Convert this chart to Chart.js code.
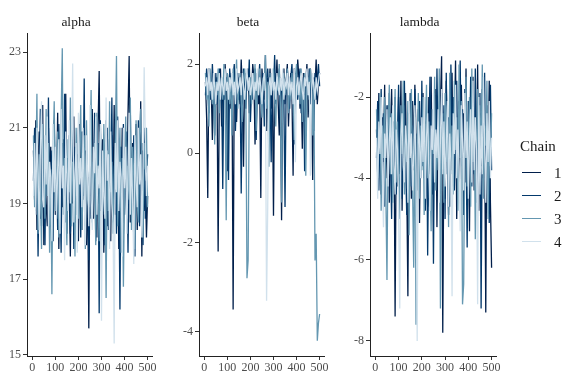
<!DOCTYPE html>
<html lang="en">
<head>
<meta charset="UTF-8">
<title>Trace plots</title>
<script src="https://cdn.jsdelivr.net/npm/chart.js"></script>
<style>
    body { margin: 0; background: #fff; }
    #wrap { position: relative; width: 576px; height: 384px; overflow: hidden; font-family: 'Liberation Serif', serif; }
    #wrap canvas { position: absolute; top: 0; }
    #legend { position: absolute; left: 520px; top: 136px; color: #1a1a1a; }
    #legend .ttl { font-size: 15px; line-height: 20px; margin-bottom: 6px; }
    #legend .row { position: relative; height: 23px; }
    #legend .key { position: absolute; left: 2px; top: 10px; width: 19px; height: 1px; }
    #legend .lab { position: absolute; left: 34px; top: 0; font-size: 15px; line-height: 22px; }
</style>
</head>
<body>
<div id="wrap">
    <canvas id="alphaChart" width="179" height="384" style="left:0px"></canvas>
    <canvas id="betaChart" width="179" height="384" style="left:172px"></canvas>
    <canvas id="lambdaChart" width="180" height="384" style="left:343px"></canvas>
    <div id="legend"></div>
</div>

<script>
// thinned draws: every 5th iteration
const iterations = [
    5, 10, 15, 20, 25, 30, 35, 40, 45, 50, 55, 60, 65, 70, 75, 80, 85, 90, 95, 100,
    105, 110, 115, 120, 125, 130, 135, 140, 145, 150, 155, 160, 165, 170, 175, 180, 185, 190, 195, 200,
    205, 210, 215, 220, 225, 230, 235, 240, 245, 250, 255, 260, 265, 270, 275, 280, 285, 290, 295, 300,
    305, 310, 315, 320, 325, 330, 335, 340, 345, 350, 355, 360, 365, 370, 375, 380, 385, 390, 395, 400,
    405, 410, 415, 420, 425, 430, 435, 440, 445, 450, 455, 460, 465, 470, 475, 480, 485, 490, 495, 500
];
const chainLabels = ['1', '2', '3', '4'];
const chainColors = ['#011f4b', '#03396c', '#6497b1', '#d1e1ec'];
const xTicks = [0, 100, 200, 300, 400, 500];

// alpha
const alphaChain1 = [
    20.4, 19.1, 21.2, 18.3, 19.8, 20.9, 18.6, 19.5, 21.6, 17.9,
    20.2, 19.0, 18.4, 21.0, 19.7, 20.5, 18.1, 19.9, 20.8, 18.7,
    19.3, 21.4, 17.8, 20.1, 19.6, 18.9, 20.7, 19.2, 21.9, 18.2,
    20.0, 19.4, 17.6, 20.6, 19.0, 21.3, 18.5, 19.8, 20.3, 18.0,
    21.1, 19.5, 18.3, 20.9, 19.1, 20.4, 17.9, 19.7, 15.7, 20.6,
    19.2, 21.5, 18.6, 20.0, 19.4, 18.1, 21.0, 22.5, 18.8, 19.9,
    20.7, 17.7, 19.3, 21.2, 18.4, 20.1, 19.6, 18.0, 20.8, 19.0,
    21.6, 18.7, 19.5, 20.3, 17.8, 20.5, 19.1, 21.0, 18.2, 19.8,
    20.2, 18.9, 21.4, 22.9, 18.5, 19.4, 20.6, 17.9, 19.9, 21.1,
    18.3, 20.0, 19.3, 21.7, 17.6, 20.4, 18.8, 19.6, 18.1, 19.2
];
const alphaChain2 = [
    19.6, 21.0, 18.8, 20.3, 17.6, 19.9, 21.5, 18.4, 20.1, 19.3,
    17.9, 20.7, 19.2, 21.8, 18.6, 19.7, 20.4, 18.0, 21.2, 19.5,
    20.0, 18.3, 21.1, 19.4, 17.7, 20.6, 19.0, 21.9, 18.5, 20.2,
    19.1, 20.8, 18.2, 19.6, 21.3, 17.8, 20.5, 19.3, 18.7, 21.0,
    19.8, 18.1, 20.9, 19.2, 22.3, 18.4, 20.3, 19.7, 17.5, 20.8,
    18.6, 20.1, 19.5, 21.4, 18.0, 19.9, 20.6, 16.1, 21.2, 19.3,
    18.8, 20.4, 17.9, 19.7, 21.0, 18.3, 20.7, 19.1, 21.8, 18.5,
    20.0, 19.4, 18.2, 21.3, 19.8, 16.2, 20.5, 19.0, 21.1, 18.7,
    19.6, 20.9, 17.7, 20.2, 21.5, 18.9, 19.3, 20.8, 17.6, 20.1,
    19.5, 21.2, 18.4, 19.9, 20.6, 17.9, 21.0, 18.6, 19.7, 20.3
];
const alphaChain3 = [
    20.8, 18.9, 19.7, 21.9, 18.2, 20.3, 19.4, 17.8, 21.1, 20.0,
    18.6, 21.5, 19.2, 20.6, 17.7, 19.9, 16.6, 20.4, 21.7, 18.8,
    19.5, 20.9, 18.1, 19.8, 21.3, 23.1, 18.7, 20.2, 19.0, 17.9,
    20.7, 19.3, 21.8, 18.4, 20.1, 19.6, 17.6, 21.0, 19.9, 18.6,
    20.5, 21.6, 18.3, 19.4, 20.8, 17.8, 21.2, 19.1, 18.9, 20.3,
    22.0, 18.5, 19.7, 20.6, 17.9, 21.4, 19.2, 18.0, 20.9, 19.5,
    18.7, 21.1, 19.9, 16.5, 20.4, 18.8, 21.7, 19.3, 20.1, 18.2,
    19.6, 20.7, 22.9, 18.4, 19.8, 21.0, 17.7, 20.2, 16.8, 19.4,
    21.3, 18.6, 20.0, 19.1, 21.8, 18.3, 20.5, 19.7, 17.8, 21.2,
    19.0, 18.5, 20.8, 21.5, 19.3, 18.1, 20.6, 19.9, 21.0, 18.9
];
const alphaChain4 = [
    19.2, 20.6, 18.7, 21.0, 19.8, 18.3, 20.4, 21.7, 19.1, 18.9,
    20.8, 19.5, 21.3, 18.4, 20.1, 19.7, 18.0, 21.1, 19.3, 20.5,
    18.6, 19.9, 20.7, 18.2, 21.5, 19.4, 20.0, 17.5, 20.9, 19.6,
    18.8, 21.2, 19.0, 20.3, 22.7, 18.5, 19.8, 20.6, 17.7, 21.4,
    19.5, 20.2, 18.9, 21.0, 19.3, 17.9, 20.8, 19.7, 18.4, 21.6,
    19.1, 18.3, 20.5, 19.8, 21.3, 18.7, 20.0, 19.4, 21.1, 15.9,
    20.4, 19.2, 18.6, 21.8, 19.6, 20.3, 17.8, 20.9, 19.0, 18.5,
    15.3, 20.6, 19.3, 21.2, 18.8, 20.1, 19.7, 17.6, 21.0, 19.4,
    20.5, 18.2, 19.9, 21.4, 18.7, 20.2, 19.1, 17.4, 20.8, 19.6,
    18.9, 21.0, 19.5, 20.3, 18.1, 19.8, 22.6, 20.7, 19.2, 20.0
];
const alphaTicks = [15, 17, 19, 21, 23];

// beta
const betaChain1 = [
    1.6, 0.8, -1.0, 1.9, 1.2, 1.5, 0.3, 1.8, 1.4, 1.1,
    1.7, -2.2, 1.3, 1.9, 0.6, 1.5, 1.2, 2.0, 1.6, -0.4,
    1.4, 1.8, 1.0, 1.6, -3.5, 1.9, 1.3, 0.7, 1.7, 1.5,
    1.1, 2.1, 1.4, -0.3, 1.8, 1.2, 1.6, 1.9, 0.9, 1.5,
    1.3, 2.0, 1.7, 0.2, 1.4, 1.8, 1.1, 1.6, -1.0, 1.9,
    1.5, 1.2, 2.2, 0.5, 1.7, 1.3, 1.9, 1.0, 1.6, -1.4,
    1.8, 1.4, 2.1, 1.2, 0.4, 1.7, -1.5, 1.5, 1.9, 1.1,
    1.6, 2.0, 0.6, 1.4, 1.8, 1.3, -0.5, 1.9, 1.5, 1.2,
    2.1, 1.7, 1.0, 1.5, 0.1, 1.8, 1.3, 1.6, 2.0, 0.8,
    1.4, 1.9, 1.2, -0.6, 1.7, 1.5, 2.1, 1.1, 1.6, 1.8
];
const betaChain2 = [
    1.3, 1.9, 1.5, 0.9, 1.7, 1.2, 2.0, 1.4, 0.4, 1.8,
    1.1, 1.6, 1.9, 1.3, 1.5, -0.8, 1.8, 1.2, 1.7, 1.4,
    -0.6, 1.9, 1.5, 1.1, 1.7, 2.0, 0.5, 1.4, 1.8, 1.2,
    1.6, -0.9, 1.3, 1.9, 1.5, 1.0, 1.8, 1.4, 2.1, 0.7,
    1.5, 1.2, 1.7, 1.9, 0.3, 1.4, 1.6, 2.0, 1.1, 1.5,
    1.8, 0.6, 1.3, 1.7, 1.9, 1.2, 1.5, -0.2, 1.8, 1.4,
    2.2, 1.1, 1.6, 1.3, 1.9, 0.8, 1.5, 1.7, 1.2, -1.2,
    1.6, 1.9, 1.4, 1.0, 1.7, 2.0, 1.3, 0.2, 1.8, 1.5,
    1.2, 1.6, 1.9, 0.9, 1.4, 1.7, -0.4, 1.5, 1.8, 1.3,
    1.9, 1.1, 1.6, 1.4, 0.5, 1.8, 1.2, 1.7, 2.0, 1.5
];
const betaChain3 = [
    1.8, 1.2, 1.5, 0.6, 1.9, 1.4, 1.1, 1.7, 0.2, 1.6,
    1.3, 1.9, 0.9, 1.5, 1.7, 1.2, 2.0, 1.4, -1.5, 1.8,
    1.5, 1.1, 1.7, 0.4, 1.9, 1.3, 1.6, 2.1, 1.0, 1.5,
    1.8, 1.2, 0.7, 1.6, 1.9, 1.4, -2.8, -2.4, 1.3, 1.7,
    1.1, 1.8, 1.5, 2.0, 0.5, 1.6, 1.3, 1.9, 1.2, 0.8,
    1.7, 1.4, 2.2, 1.0, 1.6, -0.3, 1.8, 1.3, 1.5, 1.9,
    1.2, 0.6, 1.7, 1.4, 2.0, 1.1, -1.1, 1.6, 1.8, 1.3,
    1.5, 1.9, 0.9, 1.6, 1.2, 1.8, 1.4, 0.3, 1.7, 2.0,
    1.3, 1.6, 1.1, 1.9, 0.7, 1.5, 1.8, -0.5, 1.4, 1.7,
    1.2, 1.9, 1.5, 0.4, 1.6, -2.4, -1.8, -4.2, -3.8, -3.6
];
const betaChain4 = [
    1.5, 1.7, 1.3, 1.9, 1.4, 1.6, 1.2, 1.8, 1.5, 1.1,
    1.6, 1.4, 1.8, 1.2, 1.7, 1.5, 1.3, 1.9, 1.4, 1.6,
    1.2, 1.7, 1.5, 1.8, 1.3, 1.6, 1.1, 1.9, 1.4, 1.5,
    1.7, 1.3, 1.8, 1.5, 1.2, 1.6, 1.9, 1.4, 1.7, 1.3,
    1.5, 1.8, 1.2, 1.6, 1.4, 1.9, 1.3, 1.7, 1.5, 1.1,
    1.6, 1.8, 1.4, -3.3, -1.2, 1.5, 1.7, 1.3, 1.9, 1.4,
    1.6, 1.2, 1.8, 1.5, 1.3, 1.7, 1.4, 1.9, 1.2, 1.6,
    1.5, 1.8, 1.3, 1.7, 1.4, 1.6, 1.1, 1.9, -0.2, 1.5,
    1.7, 1.3, 1.6, 1.8, 1.4, 1.2, 1.7, 1.5, 1.9, 1.3,
    1.6, -0.5, 1.4, 1.8, 1.5, 1.2, 1.7, 1.4, 1.6, 1.8
];
const betaTicks = [-4, -2, 0, 2];

// lambda
const lambdaChain1 = [
    -2.8, -3.9, -1.9, -3.3, -4.4, -2.5, -3.6, -1.7, -4.0, -3.1,
    -2.2, -4.6, -3.0, -1.8, -3.7, -2.6, -7.4, -2.9, -4.2, -2.0,
    -3.4, -1.6, -4.8, -2.7, -3.5, -1.9, -4.1, -6.9, -2.4, -3.2,
    -4.5, -2.1, -3.8, -1.7, -3.0, -4.3, -2.3, -5.1, -2.8, -3.6,
    -1.9, -4.0, -2.6, -3.3, -4.7, -2.0, -3.9, -1.5, -4.4, -2.9,
    -3.5, -1.8, -5.2, -2.5, -3.7, -2.2, -1.0, -7.8, -3.1, -4.5,
    -1.6, -3.4, -4.9, -2.3, -3.8, -1.4, -4.2, -2.7, -1.1, -5.0,
    -3.0, -2.1, -4.6, -1.7, -3.5, -2.4, -4.1, -1.3, -3.9, -2.8,
    -5.3, -2.0, -3.6, -1.5, -4.3, -2.6, -3.2, -1.2, -4.8, -2.4,
    -3.7, -1.8, -4.0, -2.9, -7.3, -2.2, -3.5, -1.6, -4.6, -6.2
];
const lambdaChain2 = [
    -3.5, -2.1, -4.3, -2.9, -1.8, -3.8, -2.4, -4.7, -3.0, -2.2,
    -4.1, -1.9, -3.4, -5.0, -2.6, -3.7, -2.0, -4.4, -3.1, -1.7,
    -3.9, -2.8, -4.5, -2.3, -1.6, -3.6, -4.9, -2.5, -3.2, -1.9,
    -4.2, -2.7, -3.5, -1.8, -4.6, -2.9, -3.3, -2.1, -4.0, -1.6,
    -3.7, -2.4, -4.8, -2.0, -5.9, -3.1, -1.5, -3.8, -2.6, -6.1,
    -2.3, -4.1, -1.3, -3.4, -2.8, -4.4, -1.9, -3.6, -2.2, -5.0,
    -1.4, -3.9, -2.5, -4.7, -1.2, -3.0, -2.0, -4.3, -3.3, -1.6,
    -4.0, -2.6, -1.1, -3.7, -2.3, -4.9, -1.8, -3.2, -5.7, -2.1,
    -3.5, -1.5, -4.2, -2.7, -3.9, -1.3, -4.6, -2.4, -3.1, -1.9,
    -7.2, -2.8, -3.6, -1.4, -4.4, -2.5, -3.0, -5.1, -1.7, -3.8
];
const lambdaChain3 = [
    -2.3, -4.0, -3.1, -1.9, -4.8, -2.7, -3.5, -2.0, -4.3, -6.5,
    -2.9, -1.7, -3.9, -2.4, -4.6, -3.2, -1.8, -4.1, -2.6, -3.7,
    -5.0, -2.2, -3.4, -1.6, -4.4, -2.8, -3.6, -2.1, -5.4, -3.0,
    -1.8, -4.2, -6.2, -2.5, -7.6, -3.3, -1.9, -4.5, -2.7, -3.8,
    -2.0, -4.9, -3.1, -1.7, -4.0, -2.6, -3.7, -5.3, -2.3, -3.4,
    -1.5, -4.3, -2.9, -3.8, -1.3, -7.2, -3.0, -2.4, -4.6, -1.9,
    -3.6, -2.2, -5.2, -1.4, -3.9, -2.7, -4.4, -1.6, -3.3, -2.5,
    -4.8, -1.2, -3.5, -2.1, -7.1, -6.6, -2.8, -1.5, -4.2, -3.1,
    -2.0, -4.7, -1.3, -3.6, -2.5, -5.5, -3.9, -1.8, -4.1, -2.2,
    -3.4, -1.2, -4.5, -2.7, -3.2, -1.6, -5.0, -2.9, -3.7, -2.4
];
const lambdaChain4 = [
    -3.0, -4.5, -2.6, -3.4, -2.0, -3.8, -5.2, -2.9, -3.5, -2.3,
    -4.2, -3.1, -2.5, -3.9, -2.2, -3.6, -4.4, -2.8, -3.3, -4.9,
    -7.2, -3.0, -2.4, -3.7, -4.1, -2.7, -3.2, -4.6, -2.1, -3.5,
    -2.9, -4.3, -3.4, -2.2, -3.9, -8.0, -2.6, -3.1, -4.0, -2.5,
    -3.6, -2.0, -4.5, -3.0, -2.4, -3.8, -4.8, -2.7, -3.3, -1.9,
    -4.1, -2.8, -3.5, -2.3, -4.6, -3.0, -1.8, -3.9, -2.6, -4.2,
    -3.2, -2.1, -4.7, -2.9, -3.6, -6.9, -2.4, -3.4, -1.7, -4.0,
    -2.8, -3.7, -5.3, -2.2, -3.1, -4.3, -1.9, -3.5, -2.6, -4.5,
    -3.0, -2.3, -4.1, -1.6, -3.8, -2.5, -3.3, -7.1, -2.0, -4.4,
    -2.7, -3.9, -1.5, -3.2, -4.6, -2.4, -3.6, -2.1, -4.0, -3.0
];
const lambdaTicks = [-8, -6, -4, -2];

const serif = "'Liberation Serif', 'Times New Roman', serif";

function makePanel(id, title, chains, yMin, yMax, yTicks) {
    const datasets = chains.map((vals, i) => ({
        label: chainLabels[i],
        data: iterations.map((it, j) => ({ x: it, y: vals[j] })),
        borderColor: chainColors[i],
        borderWidth: 1.3,
        pointRadius: 0,
        fill: false,
        tension: 0,
        // chain 1 drawn first, chain 4 ends up on top
        order: chains.length - 1 - i
    }));
    new Chart(document.getElementById(id), {
        type: 'line',
        data: { datasets },
        options: {
            responsive: false,
            animation: false,
            devicePixelRatio: 1,
            layout: { padding: { left: 0, right: 27, top: 0, bottom: 0 } },
            plugins: {
                legend: { display: false },
                tooltip: { enabled: false },
                title: {
                    display: true,
                    text: title,
                    color: '#1a1a1a',
                    font: { family: serif, size: 13.5, weight: 'normal' },
                    padding: { top: 14, bottom: 3 }
                }
            },
            scales: {
                x: {
                    type: 'linear',
                    min: -23,
                    max: 519,
                    afterBuildTicks: axis => { axis.ticks = xTicks.map(v => ({ value: v })); },
                    afterFit: axis => { axis.height = 28; },
                    ticks: {
                        color: '#4d4d4d',
                        font: { family: serif, size: 12 },
                        maxRotation: 0,
                        padding: 1,
                        callback: v => String(v)
                    },
                    grid: { drawOnChartArea: false, tickLength: 4, tickColor: '#333' },
                    border: { color: '#222', width: 1 }
                },
                y: {
                    min: yMin,
                    max: yMax,
                    afterBuildTicks: axis => { axis.ticks = yTicks.map(v => ({ value: v })); },
                    afterFit: axis => { axis.width = 27; },
                    ticks: {
                        color: '#4d4d4d',
                        font: { family: serif, size: 12 },
                        padding: 2,
                        callback: v => String(v)
                    },
                    grid: { drawOnChartArea: false, tickLength: 4, tickColor: '#333' },
                    border: { color: '#222', width: 1 }
                }
            }
        }
    });
}

makePanel('alphaChart', 'alpha', [alphaChain1, alphaChain2, alphaChain3, alphaChain4], 14.97, 23.5, alphaTicks);
makePanel('betaChart', 'beta', [betaChain1, betaChain2, betaChain3, betaChain4], -4.54, 2.69, betaTicks);
makePanel('lambdaChart', 'lambda', [lambdaChain1, lambdaChain2, lambdaChain3, lambdaChain4], -8.37, -0.43, lambdaTicks);

// legend
const legend = document.getElementById('legend');
legend.innerHTML = '<div class="ttl">Chain</div>' + chainLabels.map((lab, i) =>
    '<div class="row"><div class="key" style="background:' + chainColors[i] + '"></div><div class="lab">' + lab + '</div></div>'
).join('');
</script>
</body>
</html>
